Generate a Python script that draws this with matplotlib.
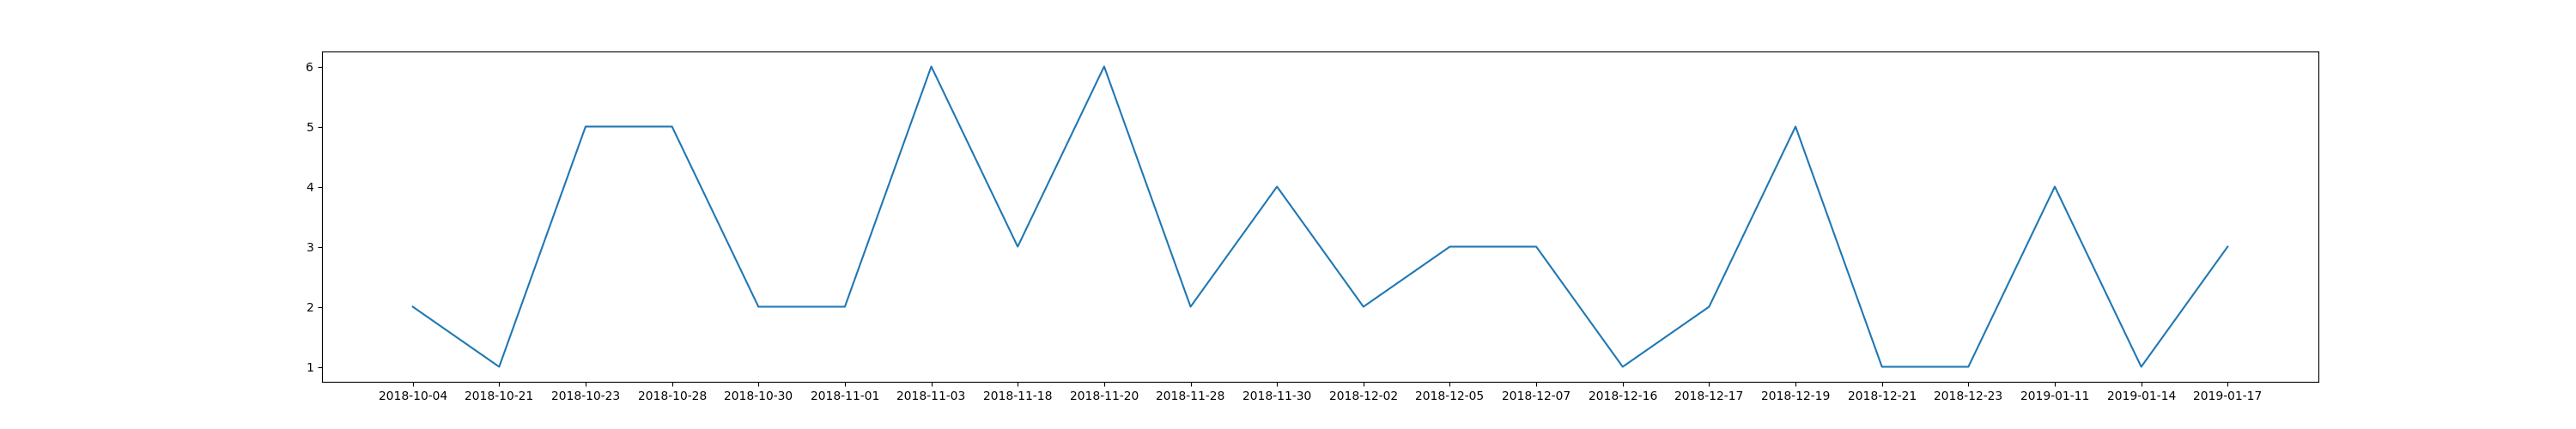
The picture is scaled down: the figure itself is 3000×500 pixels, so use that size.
import matplotlib
matplotlib.use("Agg")
import matplotlib.pyplot as plt

dates = ["2018-10-04", "2018-10-21", "2018-10-23", "2018-10-28", "2018-10-30",
         "2018-11-01", "2018-11-03", "2018-11-18", "2018-11-20", "2018-11-28",
         "2018-11-30", "2018-12-02", "2018-12-05", "2018-12-07", "2018-12-16",
         "2018-12-17", "2018-12-19", "2018-12-21", "2018-12-23", "2019-01-11",
         "2019-01-14", "2019-01-17"]
counts = [2, 1, 5, 5, 2, 2, 6, 3, 6, 2, 4, 2, 3, 3, 1, 2, 5, 1, 1, 4, 1, 3]

fig, ax = plt.subplots(figsize=(30, 5), dpi=100)
ax.plot(dates, counts)
plt.savefig("out.png")
